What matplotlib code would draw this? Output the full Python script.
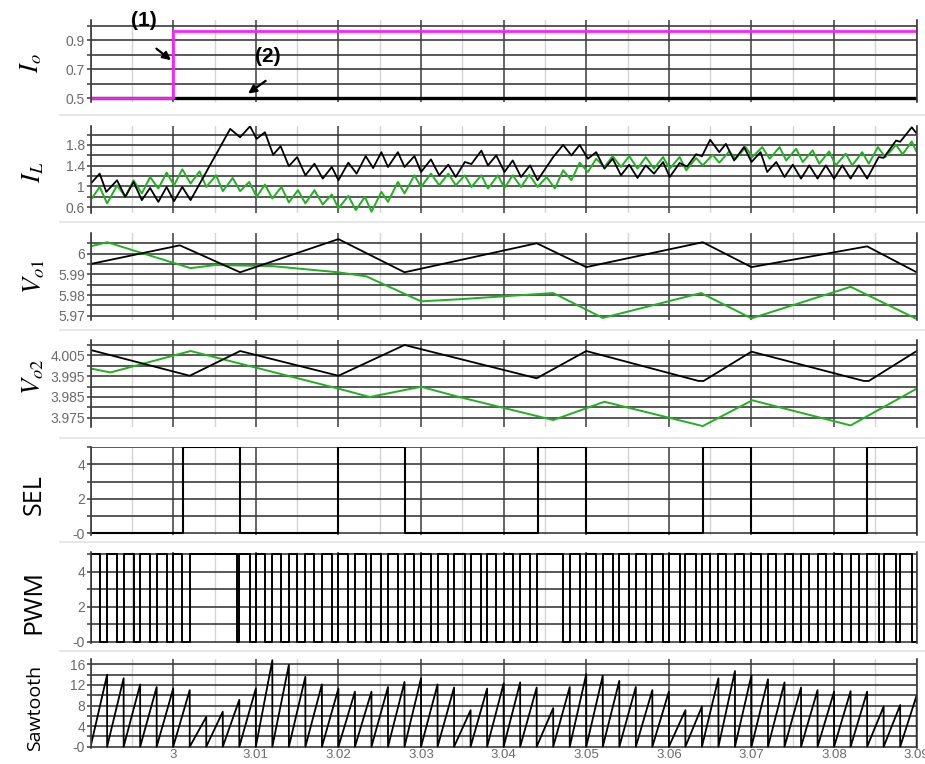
import matplotlib
matplotlib.use("Agg")
import matplotlib.pyplot as plt
from matplotlib.lines import Line2D

plt.rcParams["font.family"] = ["Liberation Sans", "DejaVu Sans"]
plt.rcParams["mathtext.fontset"] = "stix"

W, H = 925, 764
X0, X1 = 2.99, 3.09
DARK = "#3c3c3c"
LIGHT = "#d4d4d4"
TICK_C = "#6a6a6a"
GREEN = "#22b022"
MAGENTA = "#ff20ff"

# ---- traces ----
# output currents
io1_t = [2.990, 3.000, 3.000, 3.090]
io1_v = [0.5, 0.5, 0.965, 0.965]
io2_t = [2.990, 3.090]
io2_v = [0.5, 0.5]

# inductor currents (vertices of the ripple)
il1_t = [2.9900, 2.9911, 2.9919, 2.9932, 2.9942, 2.9952, 2.9962, 2.9972, 2.9982, 2.9992,
         3.0001, 3.0011, 3.0021, 3.0069, 3.0081, 3.0093, 3.0101, 3.0111, 3.0121, 3.0130,
         3.0140, 3.0150, 3.0160, 3.0171, 3.0181, 3.0192, 3.0200, 3.0212, 3.0222, 3.0233,
         3.0242, 3.0252, 3.0260, 3.0272, 3.0280, 3.0292, 3.0300, 3.0312, 3.0322, 3.0333,
         3.0342, 3.0353, 3.0361, 3.0373, 3.0381, 3.0391, 3.0401, 3.0411, 3.0421, 3.0432,
         3.0441, 3.0460, 3.0472, 3.0482, 3.0492, 3.0502, 3.0512, 3.0522, 3.0532, 3.0542,
         3.0552, 3.0562, 3.0572, 3.0582, 3.0593, 3.0601, 3.0613, 3.0622, 3.0633, 3.0640,
         3.0650, 3.0661, 3.0669, 3.0679, 3.0691, 3.0700, 3.0711, 3.0719, 3.0730, 3.0740,
         3.0750, 3.0760, 3.0770, 3.0780, 3.0790, 3.0800, 3.0810, 3.0820, 3.0830, 3.0840,
         3.0854, 3.0860, 3.0875, 3.0880, 3.0894, 3.0900]
il1_v = [1.05, 1.245, 0.893, 1.117, 0.797, 1.085, 0.733, 0.969, 0.70, 0.988,
         0.714, 0.988, 0.733, 2.109, 1.948, 2.159, 1.917, 2.044, 1.61, 1.776,
         1.39, 1.565, 1.213, 1.437, 1.15, 1.373, 1.117, 1.457, 1.245, 1.584,
         1.353, 1.66, 1.373, 1.66, 1.373, 1.584, 1.277, 1.52, 1.213, 1.418,
         1.18, 1.47, 1.43, 1.69, 1.405, 1.597, 1.277, 1.50, 1.18, 1.405,
         1.117, 1.565, 1.80, 1.597, 1.80, 1.533, 1.66, 1.341, 1.533, 1.213,
         1.418, 1.162, 1.405, 1.245, 1.469, 1.18, 1.45, 1.38, 1.62, 1.58,
         1.90, 1.66, 1.82, 1.50, 1.76, 1.47, 1.66, 1.277, 1.47, 1.18,
         1.418, 1.15, 1.405, 1.15, 1.405, 1.15, 1.405, 1.15, 1.405, 1.15,
         1.565, 1.55, 1.885, 1.86, 2.14, 2.02]

il2_t = [2.9900, 2.9911, 2.9920, 2.9932, 2.9942, 2.9952, 2.9962, 2.9972, 2.9982, 2.9992,
         3.0001, 3.0011, 3.0021, 3.0032, 3.0040, 3.0052, 3.0060, 3.0072, 3.0081, 3.0092,
         3.0101, 3.0111, 3.0120, 3.0131, 3.0140, 3.0151, 3.0160, 3.0171, 3.0181, 3.0192,
         3.0200, 3.0212, 3.0221, 3.0232, 3.0240, 3.0252, 3.0260, 3.0272, 3.0280, 3.0292,
         3.0300, 3.0312, 3.0322, 3.0333, 3.0342, 3.0353, 3.0361, 3.0373, 3.0381, 3.0393,
         3.0401, 3.0411, 3.0421, 3.0431, 3.0441, 3.0452, 3.0462, 3.0472, 3.0482, 3.0492,
         3.0502, 3.0512, 3.0522, 3.0532, 3.0542, 3.0552, 3.0562, 3.0572, 3.0582, 3.0593,
         3.0601, 3.0613, 3.0621, 3.0633, 3.0641, 3.0653, 3.0661, 3.0673, 3.0681, 3.0693,
         3.0701, 3.0713, 3.0722, 3.0734, 3.0742, 3.0754, 3.0762, 3.0774, 3.0782, 3.0794,
         3.0802, 3.0814, 3.0822, 3.0834, 3.0842, 3.0853, 3.0862, 3.0875, 3.0883, 3.0894,
         3.0900]
il2_v = [0.733, 0.988, 0.67, 1.02, 0.797, 1.117, 0.862, 1.18, 0.958, 1.264,
         1.02, 1.328, 1.054, 1.29, 0.988, 1.213, 0.906, 1.162, 0.906, 1.085,
         0.797, 1.034, 0.766, 0.988, 0.689, 0.925, 0.67, 0.925, 0.65, 0.843,
         0.574, 0.815, 0.541, 0.797, 0.509, 0.893, 0.70, 1.085, 0.862, 1.213,
         0.988, 1.245, 1.02, 1.245, 1.02, 1.213, 0.988, 1.213, 0.958, 1.213,
         0.97, 1.213, 0.988, 1.226, 0.988, 1.18, 0.958, 1.309, 1.117, 1.457,
         1.277, 1.533, 1.373, 1.584, 1.373, 1.584, 1.341, 1.565, 1.341, 1.565,
         1.341, 1.565, 1.309, 1.546, 1.405, 1.61, 1.457, 1.674, 1.533, 1.757,
         1.565, 1.757, 1.533, 1.757, 1.50, 1.725, 1.469, 1.693, 1.437, 1.674,
         1.405, 1.63, 1.405, 1.66, 1.437, 1.757, 1.565, 1.80, 1.62, 1.866,
         1.66]

# output voltages
vo1a_t = [2.9900, 3.0008, 3.0081, 3.0200, 3.0280, 3.0440, 3.0500, 3.0641, 3.0700, 3.0840, 3.0900]
vo1a_v = [5.995, 6.004, 5.991, 6.007, 5.991, 6.005, 5.9935, 6.0055, 5.9935, 6.0035, 5.991]
vo1b_t = [2.9900, 2.9920, 3.0021, 3.0051, 3.0119, 3.0200, 3.0234, 3.0300, 3.0346, 3.0460,
          3.0520, 3.0639, 3.0700, 3.0820, 3.0900]
vo1b_v = [6.0035, 6.0055, 5.993, 5.9945, 5.994, 5.991, 5.989, 5.977, 5.978, 5.981,
          5.969, 5.981, 5.9688, 5.984, 5.9685]

vo2a_t = [2.9900, 3.0020, 3.0081, 3.0200, 3.0280, 3.0440, 3.0500, 3.0636, 3.0642, 3.0700,
          3.0836, 3.0842, 3.0900]
vo2a_v = [4.0076, 3.9952, 4.0071, 3.9952, 4.0100, 3.9940, 4.0071, 3.9927, 3.9927, 4.0068,
          3.9927, 3.9927, 4.0071]
vo2b_t = [2.9900, 2.9924, 3.0021, 3.0200, 3.0238, 3.0300, 3.0346, 3.0460, 3.0522, 3.0641,
          3.0701, 3.0820, 3.0900]
vo2b_v = [3.9987, 3.9968, 4.0071, 3.989, 3.985, 3.9899, 3.985, 3.9739, 3.9827, 3.9710,
          3.9834, 3.9713, 3.989]

# select signal: high intervals
sel_rise = [3.0012, 3.0200, 3.0441, 3.0641, 3.0840]
sel_fall = [3.0081, 3.0280, 3.0500, 3.0700, 3.0900]

# pwm: high intervals
pwm_rise = [2.9900, 2.9920, 2.9940, 2.9960, 2.9980, 3.0000, 3.0020, 3.0080, 3.0100, 3.0120,
            3.0140, 3.0160, 3.0180, 3.0200, 3.0220, 3.0240, 3.0260, 3.0280, 3.0300, 3.0320,
            3.0340, 3.0360, 3.0380, 3.0400, 3.0420, 3.0440, 3.0480, 3.0500, 3.0520, 3.0540,
            3.0560, 3.0580, 3.0600, 3.0620, 3.0640, 3.0660, 3.0680, 3.0700, 3.0720, 3.0740,
            3.0760, 3.0780, 3.0800, 3.0820, 3.0840, 3.0860, 3.0880]
pwm_fall = [2.9911, 2.9932, 2.9952, 2.9972, 2.9992, 3.0011, 3.0077, 3.0093, 3.0111, 3.0130,
            3.0150, 3.0171, 3.0192, 3.0212, 3.0233, 3.0252, 3.0272, 3.0292, 3.0312, 3.0333,
            3.0353, 3.0373, 3.0391, 3.0411, 3.0432, 3.0472, 3.0492, 3.0512, 3.0532, 3.0552,
            3.0572, 3.0593, 3.0613, 3.0633, 3.0650, 3.0669, 3.0691, 3.0711, 3.0730, 3.0750,
            3.0770, 3.0790, 3.0810, 3.0830, 3.0854, 3.0875, 3.0894]

# sawtooth: reset instants and the peak reached before each reset
saw_reset = [2.990, 2.992, 2.994, 2.996, 2.998, 3.000, 3.002, 3.004, 3.006, 3.008,
             3.010, 3.012, 3.014, 3.016, 3.018, 3.020, 3.022, 3.024, 3.026, 3.028,
             3.030, 3.032, 3.034, 3.036, 3.038, 3.040, 3.042, 3.044, 3.046, 3.048,
             3.050, 3.052, 3.054, 3.056, 3.058, 3.060, 3.062, 3.064, 3.066, 3.068,
             3.070, 3.072, 3.074, 3.076, 3.078, 3.080, 3.082, 3.084, 3.086, 3.088,
             3.090]
saw_peak = [14.0, 13.3, 12.1, 11.6, 11.3, 11.0, 5.8, 6.8, 9.1, 11.3,
            16.8, 15.9, 13.6, 12.1, 11.3, 10.7, 10.7, 11.6, 12.6, 13.3,
            12.1, 11.5, 7.1, 11.3, 12.3, 12.5, 11.5, 7.5, 11.6, 14.1,
            13.8, 12.8, 11.6, 11.0, 10.7, 7.1, 7.8, 13.3, 14.7, 13.9,
            13.1, 12.5, 11.5, 11.0, 10.7, 10.8, 10.7, 7.8, 8.1, 10.0]

x_major = [2.99, 3.00, 3.01, 3.02, 3.03, 3.04, 3.05, 3.06, 3.07, 3.08, 3.09]
x_minor = [2.995, 3.005, 3.015, 3.025, 3.035, 3.045, 3.055, 3.065, 3.075, 3.085]
x_labels = ["", "3", "3.01", "3.02", "3.03", "3.04", "3.05", "3.06", "3.07", "3.08", "3.09"]


def pulses(rise, fall, start_high=False):
  xs, ys = [X0], [5 if start_high else 0]
  for r, f in zip(rise, fall):
    xs += [r, r, f, f]
    ys += [0, 5, 5, 0]
  xs.append(X1)
  ys.append(0)
  return xs, ys


def sawtooth(reset, peak):
  xs, ys = [reset[0]], [0]
  for r, p in zip(reset[1:], peak):
    xs += [r, r]
    ys += [p, 0]
  return xs, ys


fig = plt.figure(figsize=(W / 100, H / 100), dpi=100)


def panel(top, bottom, ylim, grid_y, labels):
  ax = fig.add_axes([90.6 / W, 1 - bottom / H, (916.7 - 90.6) / W, (bottom - top) / H])
  ax.set_xlim(X0, X1)
  ax.set_ylim(*ylim)
  for s in ("top", "bottom"):
    ax.spines[s].set_visible(False)
  for s in ("left", "right"):
    ax.spines[s].set_color(DARK)
    ax.spines[s].set_linewidth(1.2)
  ax.set_yticks(grid_y, labels=labels)
  ax.set_xticks(x_major, labels=[""] * len(x_major))
  ax.set_xticks(x_minor, minor=True)
  ax.grid(axis="y", color=DARK, lw=1.2)
  ax.grid(axis="x", which="major", color=DARK, lw=1.1)
  ax.grid(axis="x", which="minor", color=LIGHT, lw=1.0)
  ax.tick_params(axis="y", length=3, width=1.1, color=DARK, pad=1,
                 labelsize=10, labelcolor=TICK_C)
  ax.tick_params(axis="x", which="both", length=0)
  ax.set_axisbelow(True)
  return ax


ax = panel(20, 102.4, (0.47, 1.04), [0.5, 0.6, 0.7, 0.8, 0.9, 1.0],
           ["0.5", "", "0.7", "", "0.9", ""])
ax.plot(io2_t, io2_v, color="black", lw=2.4)
ax.plot(io1_t, io1_v, color=MAGENTA, lw=2.0)
ax.annotate("", xy=(3.0, 0.75), xytext=(-19, 15), textcoords="offset pixels",
            arrowprops=dict(arrowstyle="-|>", color="black", lw=1.6, mutation_scale=12))
ax.annotate("", xy=(3.0088, 0.52), xytext=(22, 16), textcoords="offset pixels",
            arrowprops=dict(arrowstyle="-|>", color="black", lw=1.6, mutation_scale=12))
fig.text(144 / W, 1 - 21 / H, "(1)", fontsize=15, fontweight="bold", ha="center", va="center")
fig.text(268 / W, 1 - 57 / H, "(2)", fontsize=15, fontweight="bold", ha="center", va="center")

ax = panel(126, 213, (0.485, 2.165), [0.6, 0.8, 1.0, 1.2, 1.4, 1.6, 1.8, 2.0],
           ["0.6", "", "1", "", "1.4", "", "1.8", ""])
ax.plot(il2_t, il2_v, color=GREEN, lw=1.4)
ax.plot(il1_t, il1_v, color="black", lw=1.3)

ax = panel(233.3, 320, (5.968, 6.0098),
           [5.97, 5.975, 5.98, 5.985, 5.99, 5.995, 6.0, 6.005],
           ["5.97", "", "5.98", "", "5.99", "", "6", ""])
ax.plot(vo1b_t, vo1b_v, color=GREEN, lw=1.4)
ax.plot(vo1a_t, vo1a_v, color="black", lw=1.3)

ax = panel(340, 426.7, (3.9707, 4.0124),
           [3.975, 3.98, 3.985, 3.99, 3.995, 4.0, 4.005, 4.01],
           ["3.975", "", "3.985", "", "3.995", "", "4.005", ""])
ax.plot(vo2b_t, vo2b_v, color=GREEN, lw=1.4)
ax.plot(vo2a_t, vo2a_v, color="black", lw=1.3)

ax = panel(446.7, 535, (-0.1, 5.035), [0, 1, 2, 3, 4, 5],
           ["-0", "", "2", "", "4", ""])
ax.plot(*pulses(sel_rise, sel_fall), color="black", lw=1.5)

ax = panel(551.7, 643.3, (-0.1, 5.15), [0, 1, 2, 3, 4, 5],
           ["-0", "", "2", "", "4", ""])
ax.plot(*pulses(pwm_rise, pwm_fall), color="black", lw=1.4)

ax = panel(659.2, 748, (-0.25, 17.0), [0, 2, 4, 6, 8, 10, 12, 14, 16],
           ["-0", "", "4", "", "8", "", "12", "", "16"])
ax.plot(*sawtooth(saw_reset, saw_peak), color="black", lw=1.3)
ax.set_xticks(x_major, labels=x_labels)
ax.tick_params(axis="x", labelsize=9.5, labelcolor=TICK_C, pad=0.5)

# channel names
names = [("$I_o$", 31, 63, 19), ("$I_L$", 33, 172, 19), ("$V_{o1}$", 34, 277, 19),
         ("$V_{o2}$", 33, 377, 19)]
for txt, x, y, fs in names:
  fig.text(x / W, 1 - y / H, txt, fontsize=fs, rotation=90, ha="center", va="center")
for txt, x, y, fs in [("SEL", 34, 495, 18), ("PWM", 34, 602, 19), ("Sawtooth", 35, 708, 14)]:
  fig.text(x / W, 1 - y / H, txt, fontsize=fs, rotation=90, ha="center", va="center",
           family=["Open Sans", "DejaVu Sans"])

# light separators between channels
for y in [115, 222, 330, 438, 542, 651]:
  fig.add_artist(Line2D([60 / W, 1], [1 - y / H, 1 - y / H], color="#e2e2e2", lw=1.2))

fig.savefig("out.png", dpi=100)
